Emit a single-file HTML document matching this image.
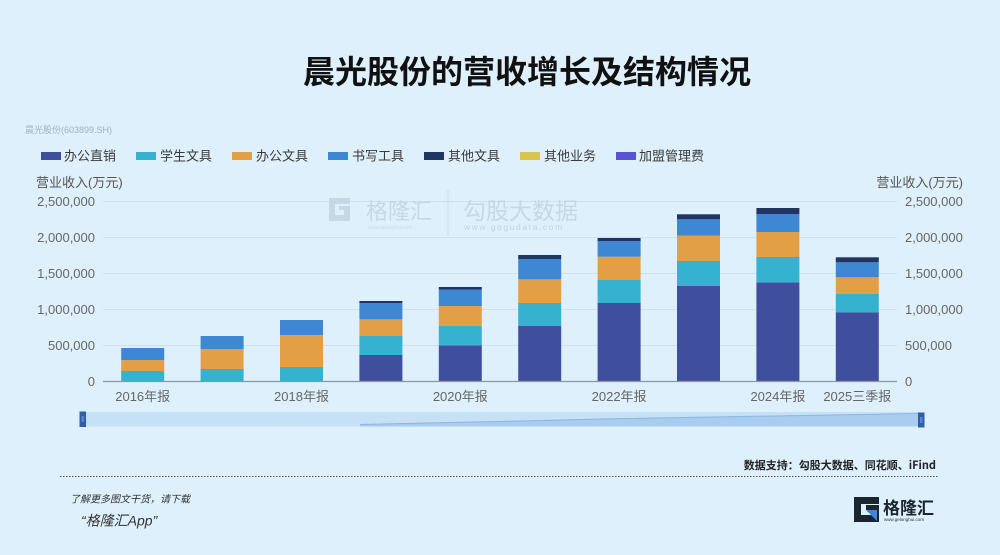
<!DOCTYPE html>
<html>
<head>
<meta charset="utf-8">
<style>
  html,body{margin:0;padding:0;background:#ddf0fb;}
  svg{display:block;}
  text{font-family:"Liberation Sans","Noto Sans CJK SC",sans-serif;}
</style>
</head>
<body>
<svg width="1000" height="555" viewBox="0 0 1000 555" xmlns="http://www.w3.org/2000/svg">
  <rect x="0" y="0" width="1000" height="555" fill="#ddf0fb"/>

  <!-- Title -->
  <text x="527" y="83" text-anchor="middle" font-size="32" font-weight="bold" fill="#111" style="font-family:'Noto Sans CJK SC',sans-serif">晨光股份的营收增长及结构情况</text>

  <!-- subtitle -->
  <text x="25" y="133" font-size="9" fill="#a3b1bc">晨光股份(603899.SH)</text>

  <!-- Legend -->
  <g font-size="13" fill="#3a3a3a">
    <rect x="41" y="152" width="20" height="8" fill="#3f4f9d"/><text x="64" y="160.5">办公直销</text>
    <rect x="136" y="152" width="20" height="8" fill="#35b2cf"/><text x="160" y="160.5">学生文具</text>
    <rect x="232" y="152" width="20" height="8" fill="#e39f45"/><text x="256" y="160.5">办公文具</text>
    <rect x="328" y="152" width="20" height="8" fill="#3e87d2"/><text x="352" y="160.5">书写工具</text>
    <rect x="424" y="152" width="20" height="8" fill="#203564"/><text x="448" y="160.5">其他文具</text>
    <rect x="520" y="152" width="20" height="8" fill="#d8c64c"/><text x="544" y="160.5">其他业务</text>
    <rect x="616" y="152" width="20" height="8" fill="#5a52d4"/><text x="639" y="160.5">加盟管理费</text>
  </g>

  <!-- axis titles -->
  <text x="36" y="187" font-size="13" fill="#555">营业收入(万元)</text>
  <text x="963" y="187" font-size="13" fill="#555" text-anchor="end">营业收入(万元)</text>

  <!-- grid lines -->
  <g stroke="#cde2ee" stroke-width="1">
    <line x1="103" y1="201.5" x2="897" y2="201.5"/>
    <line x1="103" y1="237.5" x2="897" y2="237.5"/>
    <line x1="103" y1="273.5" x2="897" y2="273.5"/>
    <line x1="103" y1="309.5" x2="897" y2="309.5"/>
    <line x1="103" y1="345.5" x2="897" y2="345.5"/>
  </g>

  <!-- Watermark -->
  <g opacity="0.75">
    <path d="M329 198 h21 v6 h-15 v11 h9 v-5 h-5 v-4 h11 v15 h-21 z" fill="#bfd1df"/>
    <text x="366" y="219" font-size="22" fill="#bfd1df" style="font-family:'Noto Sans CJK SC',sans-serif">格隆汇</text>
    <text x="368" y="229" font-size="5" fill="#c4d4e0">www.gelonghui.com</text>
    <line x1="448" y1="190" x2="448" y2="236" stroke="#c4d4e0" stroke-width="1"/>
    <text x="463" y="219" font-size="23" fill="#bfd1df" style="font-family:'Noto Sans CJK SC',sans-serif">勾股大数据</text>
    <text x="464" y="230" font-size="8.5" fill="#b7c9d7" letter-spacing="1.6">www.gogudata.com</text>
  </g>

  <!-- Bars -->
  <g>
    <!-- 2016 -->
    <rect x="121.2" y="371" width="43" height="10" fill="#35b2cf"/>
    <rect x="121.2" y="360" width="43" height="11" fill="#e39f45"/>
    <rect x="121.2" y="348" width="43" height="12" fill="#3e87d2"/>
    <!-- 2017 -->
    <rect x="200.6" y="369" width="43" height="12" fill="#35b2cf"/>
    <rect x="200.6" y="349" width="43" height="20" fill="#e39f45"/>
    <rect x="200.6" y="336" width="43" height="13" fill="#3e87d2"/>
    <!-- 2018 -->
    <rect x="280" y="367" width="43" height="14" fill="#35b2cf"/>
    <rect x="280" y="335" width="43" height="32" fill="#e39f45"/>
    <rect x="280" y="320" width="43" height="15" fill="#3e87d2"/>
    <!-- 2019 -->
    <rect x="359.4" y="355" width="43" height="26" fill="#3f4f9d"/>
    <rect x="359.4" y="336" width="43" height="19" fill="#35b2cf"/>
    <rect x="359.4" y="319.3" width="43" height="16.7" fill="#e39f45"/>
    <rect x="359.4" y="303" width="43" height="16.3" fill="#3e87d2"/>
    <rect x="359.4" y="301" width="43" height="2" fill="#203564"/>
    <!-- 2020 -->
    <rect x="438.8" y="345.3" width="43" height="35.7" fill="#3f4f9d"/>
    <rect x="438.8" y="325.7" width="43" height="19.6" fill="#35b2cf"/>
    <rect x="438.8" y="306" width="43" height="19.7" fill="#e39f45"/>
    <rect x="438.8" y="289.5" width="43" height="16.5" fill="#3e87d2"/>
    <rect x="438.8" y="287" width="43" height="2.5" fill="#203564"/>
    <!-- 2021 -->
    <rect x="518.2" y="325.7" width="43" height="55.3" fill="#3f4f9d"/>
    <rect x="518.2" y="303" width="43" height="22.7" fill="#35b2cf"/>
    <rect x="518.2" y="279.3" width="43" height="23.7" fill="#e39f45"/>
    <rect x="518.2" y="259" width="43" height="20.3" fill="#3e87d2"/>
    <rect x="518.2" y="255" width="43" height="4" fill="#203564"/>
    <!-- 2022 -->
    <rect x="597.6" y="303" width="43" height="78" fill="#3f4f9d"/>
    <rect x="597.6" y="280" width="43" height="23" fill="#35b2cf"/>
    <rect x="597.6" y="256.7" width="43" height="23.3" fill="#e39f45"/>
    <rect x="597.6" y="241" width="43" height="15.7" fill="#3e87d2"/>
    <rect x="597.6" y="238" width="43" height="3" fill="#203564"/>
    <!-- 2023 -->
    <rect x="677" y="286" width="43" height="95" fill="#3f4f9d"/>
    <rect x="677" y="261" width="43" height="25" fill="#35b2cf"/>
    <rect x="677" y="235.7" width="43" height="25.3" fill="#e39f45"/>
    <rect x="677" y="219.3" width="43" height="16.4" fill="#3e87d2"/>
    <rect x="677" y="214.3" width="43" height="5" fill="#203564"/>
    <!-- 2024 -->
    <rect x="756.4" y="282.3" width="43" height="98.7" fill="#3f4f9d"/>
    <rect x="756.4" y="257" width="43" height="25.3" fill="#35b2cf"/>
    <rect x="756.4" y="232" width="43" height="25" fill="#e39f45"/>
    <rect x="756.4" y="214" width="43" height="18" fill="#3e87d2"/>
    <rect x="756.4" y="208" width="43" height="6" fill="#203564"/>
    <!-- 2025 Q3 -->
    <rect x="835.8" y="312.3" width="43" height="68.7" fill="#3f4f9d"/>
    <rect x="835.8" y="293.7" width="43" height="18.6" fill="#35b2cf"/>
    <rect x="835.8" y="277.3" width="43" height="16.4" fill="#e39f45"/>
    <rect x="835.8" y="262.3" width="43" height="15" fill="#3e87d2"/>
    <rect x="835.8" y="257.3" width="43" height="5" fill="#203564"/>
  </g>

  <!-- x axis line -->
  <line x1="103" y1="381.5" x2="897" y2="381.5" stroke="#8797a5" stroke-width="1.2"/>

  <!-- left ticks -->
  <g font-size="13" fill="#666" text-anchor="end">
    <text x="95" y="206">2,500,000</text>
    <text x="95" y="242">2,000,000</text>
    <text x="95" y="278">1,500,000</text>
    <text x="95" y="314">1,000,000</text>
    <text x="95" y="350">500,000</text>
    <text x="95" y="386">0</text>
  </g>
  <!-- right ticks -->
  <g font-size="13" fill="#666">
    <text x="905" y="206">2,500,000</text>
    <text x="905" y="242">2,000,000</text>
    <text x="905" y="278">1,500,000</text>
    <text x="905" y="314">1,000,000</text>
    <text x="905" y="350">500,000</text>
    <text x="905" y="386">0</text>
  </g>

  <!-- x labels -->
  <g font-size="13" fill="#666" text-anchor="middle">
    <text x="142.7" y="401">2016年报</text>
    <text x="301.5" y="401">2018年报</text>
    <text x="460.3" y="401">2020年报</text>
    <text x="619.1" y="401">2022年报</text>
    <text x="777.9" y="401">2024年报</text>
    <text x="857.3" y="401">2025三季报</text>
  </g>

  <!-- data zoom slider -->
  <rect x="83" y="412" width="838" height="14.5" fill="#c6e0f5"/>
  <path d="M360 424.5 C 450 423, 520 421, 600 419 C 700 417, 800 415, 918 413.5 L 918 426.5 L 360 426.5 Z" fill="#a9cdef"/>
  <path d="M360 424.5 C 450 423, 520 421, 600 419 C 700 417, 800 415, 918 413.5" fill="none" stroke="#8ab6e2" stroke-width="1"/>
  <rect x="79.5" y="411.5" width="6.5" height="15.5" fill="#2f5ea8"/>
  <line x1="81.5" y1="417" x2="84" y2="417" stroke="#9fc0ea" stroke-width="0.8"/>
  <line x1="81.5" y1="419" x2="84" y2="419" stroke="#9fc0ea" stroke-width="0.8"/>
  <line x1="81.5" y1="421" x2="84" y2="421" stroke="#9fc0ea" stroke-width="0.8"/>
  <rect x="918" y="412.5" width="6.5" height="15" fill="#2f5ea8"/>
  <line x1="920" y1="418" x2="922.5" y2="418" stroke="#9fc0ea" stroke-width="0.8"/>
  <line x1="920" y1="420" x2="922.5" y2="420" stroke="#9fc0ea" stroke-width="0.8"/>
  <line x1="920" y1="422" x2="922.5" y2="422" stroke="#9fc0ea" stroke-width="0.8"/>

  <!-- data source -->
  <text x="936" y="469" font-size="11" fill="#222" text-anchor="end" font-weight="bold" style="font-family:'Noto Sans CJK SC',sans-serif">数据支持：勾股大数据、同花顺、iFind</text>

  <!-- dotted line -->
  <line x1="60" y1="476.5" x2="939" y2="476.5" stroke="#555" stroke-width="1" stroke-dasharray="1.5,1.5"/>

  <!-- footer left -->
  <text x="70" y="502.5" font-size="10" fill="#333" font-style="italic" style="font-family:'Noto Sans CJK SC',sans-serif">了解更多图文干货，请下载</text>
  <text x="81" y="525.5" font-size="14" fill="#333" font-style="italic">“格隆汇App”</text>

  <!-- footer logo -->
  <path d="M854 497 h25 v7 h-18 v11 h11 v-5 h-6 v-5 h13 v17 h-25 z" fill="#1a2530"/>
  <path d="M866 510 l11 0 l0 11 z" fill="#3e87d2"/>
  <text x="883" y="514" font-size="17" fill="#1a2530" font-weight="bold" style="font-family:'Noto Sans CJK SC',sans-serif">格隆汇</text>
  <text x="884" y="521" font-size="4.5" fill="#333">www.gelonghui.com</text>
</svg>
</body>
</html>
